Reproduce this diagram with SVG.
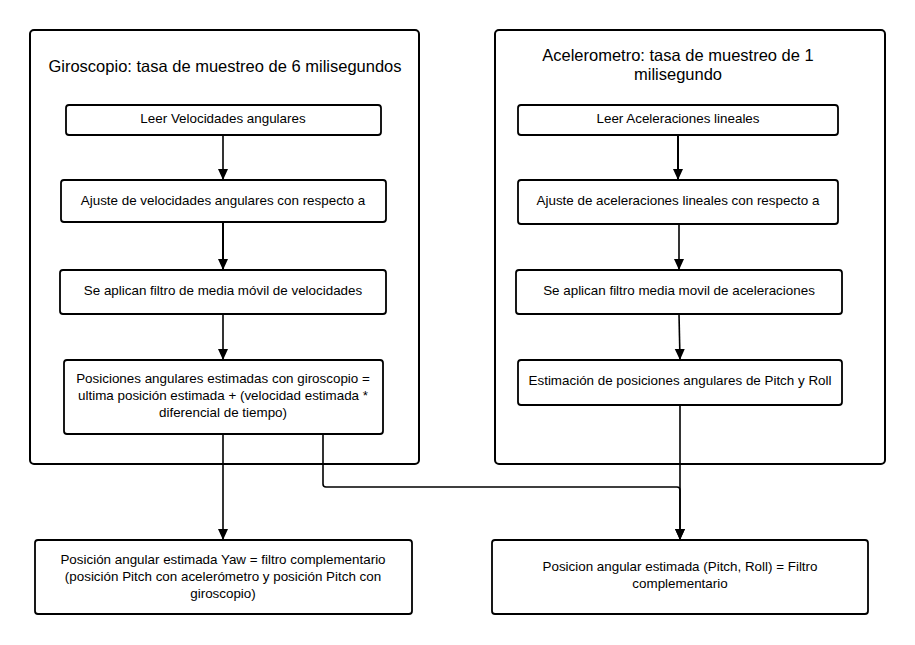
<svg xmlns="http://www.w3.org/2000/svg" width="915" height="645" viewBox="0 0 915 645">
<style>
.c{fill:#fff;stroke:#000;stroke-width:2}
.b{fill:#fff;stroke:#000;stroke-width:1.8}
.t{font-family:"Liberation Sans",Arial,sans-serif;font-size:13.4px;fill:#000;text-anchor:middle}
.h{font-family:"Liberation Sans",Arial,sans-serif;font-size:16.5px;fill:#000;text-anchor:middle}
.l{fill:none;stroke:#000;stroke-width:1.6}
</style>
<defs>
<marker id="m" markerUnits="userSpaceOnUse" markerWidth="12" markerHeight="12" refX="11" refY="6" orient="auto" viewBox="0 0 12 12">
<path d="M0,1 L11,6 L0,11 Z" fill="#000"/>
</marker>
</defs>
<rect width="915" height="645" fill="#fff"/>
<g id="giroscopio">
<rect class="c" x="30" y="30" width="389" height="434" rx="4"/>
<text class="h" x="225" y="72">Giroscopio: tasa de muestreo de 6 milisegundos</text>
</g>
<g id="acelerometro">
<rect class="c" x="495" y="30" width="390" height="434" rx="4"/>
<text class="h" x="678" y="61">Acelerometro: tasa de muestreo de 1</text>
<text class="h" x="678" y="80">milisegundo</text>
</g>
<g id="g1"><rect class="b" x="66" y="105" width="315" height="30" rx="3"/><text class="t" x="223" y="123">Leer Velocidades angulares</text></g>
<g id="g2"><rect class="b" x="61" y="180" width="325" height="42" rx="3"/><text class="t" x="223" y="205">Ajuste de velocidades angulares con respecto a</text></g>
<g id="g3"><rect class="b" x="60" y="270" width="326" height="44" rx="3"/><text class="t" x="223" y="295">Se aplican filtro de media móvil de velocidades</text></g>
<g id="g4"><rect class="b" x="64" y="360" width="319" height="74" rx="3"/>
<text class="t" x="223" y="383">Posiciones angulares estimadas con giroscopio =</text>
<text class="t" x="223" y="400">ultima posición estimada + (velocidad estimada *</text>
<text class="t" x="223" y="417">diferencial de tiempo)</text></g>
<g id="a1"><rect class="b" x="518" y="105" width="320" height="30" rx="3"/><text class="t" x="678" y="123">Leer Aceleraciones lineales</text></g>
<g id="a2"><rect class="b" x="518" y="180" width="320" height="44" rx="3"/><text class="t" x="678" y="205">Ajuste de aceleraciones lineales con respecto a</text></g>
<g id="a3"><rect class="b" x="516" y="270" width="326" height="44" rx="3"/><text class="t" x="679" y="295">Se aplican filtro media movil de aceleraciones</text></g>
<g id="a4"><rect class="b" x="518" y="360" width="324" height="45" rx="3"/><text class="t" x="680" y="385">Estimación de posiciones angulares de Pitch y Roll</text></g>
<g id="yaw"><rect class="b" x="35" y="540" width="377" height="74" rx="3"/>
<text class="t" x="223" y="564">Posición angular estimada Yaw = filtro complementario</text>
<text class="t" x="223" y="581">(posición Pitch con acelerómetro y posición Pitch con</text>
<text class="t" x="223" y="598">giroscopio)</text></g>
<g id="pitchroll"><rect class="b" x="492" y="540" width="376" height="74" rx="3"/>
<text class="t" x="680" y="571">Posicion angular estimada (Pitch, Roll) = Filtro</text>
<text class="t" x="680" y="588">complementario</text></g>
<g id="connectors">
<line class="l" x1="223" y1="135" x2="223" y2="180" marker-end="url(#m)"/>
<line class="l" x1="223" y1="222" x2="223" y2="270" marker-end="url(#m)" style="stroke-width:2"/>
<line class="l" x1="223" y1="314" x2="223" y2="360" marker-end="url(#m)"/>
<line class="l" x1="223" y1="434" x2="223" y2="540" marker-end="url(#m)"/>
<path class="l" d="M323,434 V484 Q323,487 326,487 H677 Q680,487 680,490 V540" marker-end="url(#m)"/>
<line class="l" x1="678" y1="135" x2="678" y2="180" marker-end="url(#m)" style="stroke-width:2"/>
<line class="l" x1="679" y1="224" x2="679" y2="270" marker-end="url(#m)"/>
<line class="l" x1="679" y1="314" x2="680" y2="360" marker-end="url(#m)"/>
<line class="l" x1="680" y1="405" x2="680" y2="540" marker-end="url(#m)"/>
</g>
</svg>
